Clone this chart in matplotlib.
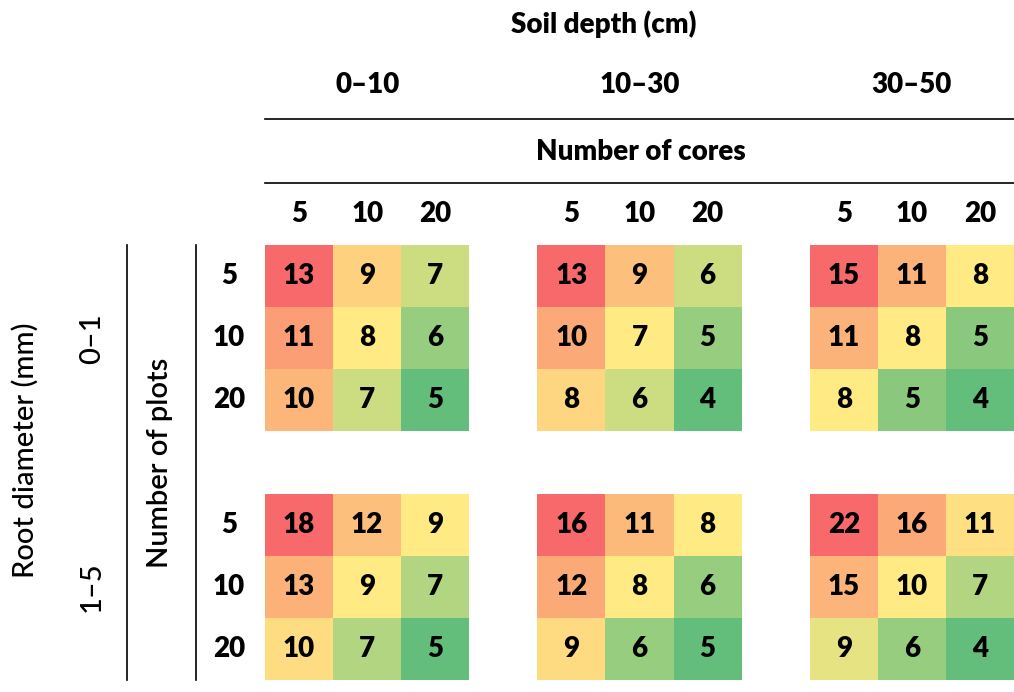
import numpy as np
import matplotlib
matplotlib.use("Agg")
import matplotlib.pyplot as plt
from matplotlib.colors import LinearSegmentedColormap, TwoSlopeNorm

# labels
depths = ["0–10", "10–30", "30–50"]
cores = ["5", "10", "20"]
plots = ["5", "10", "20"]
diameters = ["0–1", "1–5"]

# required sample numbers, rows = number of plots, cols = number of cores
fine_0_10 = [[13, 9, 7], [11, 8, 6], [10, 7, 5]]
fine_10_30 = [[13, 9, 6], [10, 7, 5], [8, 6, 4]]
fine_30_50 = [[15, 11, 8], [11, 8, 5], [8, 5, 4]]
coarse_0_10 = [[18, 12, 9], [13, 9, 7], [10, 7, 5]]
coarse_10_30 = [[16, 11, 8], [12, 8, 6], [9, 6, 5]]
coarse_30_50 = [[22, 16, 11], [15, 10, 7], [9, 6, 4]]

blocks = [[fine_0_10, fine_10_30, fine_30_50],
          [coarse_0_10, coarse_10_30, coarse_30_50]]

# excel style 3 colour scale green - yellow - red
cmap = LinearSegmentedColormap.from_list(
    "ryg", ["#63BE7B", "#FFEB84", "#F8696B"])

plt.rcParams["font.family"] = ["Lato", "DejaVu Sans"]
FS = 20
WT = "heavy"

W, H = 1014, 692
fig = plt.figure(figsize=(W / 100, H / 100), dpi=100)
ax = fig.add_axes([265 / W, 1 - 680 / H, (1014 - 265) / W, (680 - 245) / H])

for i, row in enumerate(blocks):
    for j, vals in enumerate(row):
        vals = np.array(vals)
        med = np.median(vals)
        norm = TwoSlopeNorm(vcenter=med, vmin=vals.min(), vmax=vals.max())
        x0 = j * 4
        y0 = i * 4
        ax.pcolormesh(np.arange(x0, x0 + 4), np.arange(y0, y0 + 4), vals,
                      cmap=cmap, norm=norm)
        for r in range(3):
            for c in range(3):
                ax.text(x0 + c + 0.5, y0 + r + 0.5, str(vals[r, c]),
                        ha="center", va="center", fontsize=FS, fontweight=WT)

ax.set_xlim(0, 11)
ax.set_ylim(7, 0)
ax.axis("off")

# column headers
for j, d in enumerate(depths):
    ax.text(j * 4 + 1.5, -2.57, d, ha="center", va="center", fontsize=FS,
            fontweight=WT, clip_on=False)
    for c, lab in enumerate(cores):
        ax.text(j * 4 + c + 0.5, -0.5, lab, ha="center", va="center",
                fontsize=FS, fontweight=WT, clip_on=False)
ax.text(4.98, -3.55, "Soil depth (cm)", ha="center", va="center", fontsize=FS,
        fontweight=WT, clip_on=False)
ax.text(5.52, -1.5, "Number of cores", ha="center", va="center", fontsize=FS,
        fontweight=WT, clip_on=False)
ax.plot([0, 11], [-2.02, -2.02], color="black", lw=1.2, clip_on=False)
ax.plot([0, 11], [-1.0, -1.0], color="black", lw=1.2, clip_on=False)

# row headers
for i, d in enumerate(diameters):
    ax.text(-2.54, i * 4 + 1.5, d, ha="center", va="center", fontsize=21,
            fontweight="medium", rotation=90, clip_on=False)
    for r, lab in enumerate(plots):
        ax.text(-0.53, i * 4 + r + 0.5, lab, ha="center", va="center",
                fontsize=FS, fontweight=WT, clip_on=False)
ax.text(-3.52, 3.3, "Root diameter (mm)", ha="center", va="center",
        fontsize=21, fontweight="medium", rotation=90, clip_on=False)
ax.text(-1.54, 3.5, "Number of plots", ha="center", va="center",
        fontsize=21, fontweight="semibold", rotation=90, clip_on=False)
ax.plot([-2.03, -2.03], [0, 7], color="black", lw=1.2, clip_on=False)
ax.plot([-1.01, -1.01], [0, 7], color="black", lw=1.2, clip_on=False)

fig.savefig("out.png", dpi=100)
